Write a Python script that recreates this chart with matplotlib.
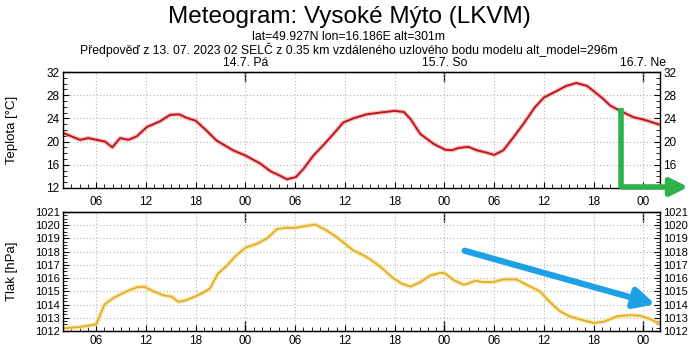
import matplotlib
matplotlib.use("Agg")
import matplotlib.pyplot as plt
from matplotlib.ticker import MultipleLocator, FuncFormatter, NullFormatter
from matplotlib.patches import FancyArrowPatch
from matplotlib.lines import Line2D

# hours since 13.7.2023 00:00
temp_hours = [2.0, 4.05, 5.06, 6.06, 7.07, 7.95, 8.88, 9.88, 10.89, 12.1, 13.7, 14.9,
              16.0, 16.9, 18.0, 19.3, 20.5, 22.5, 24.0, 25.8, 27.0, 28.2, 29.0, 30.1,
              31.0, 32.2, 33.4, 34.6, 35.8, 37.0, 38.6, 40.2, 42.0, 43.1, 43.9, 45.1,
              46.7, 48.1, 48.9, 49.7, 50.9, 51.9, 53.1, 54.0, 55.1, 56.3, 57.5, 58.9,
              60.0, 61.5, 62.7, 63.9, 65.2, 66.0, 67.2, 68.0, 69.2, 70.8, 72.0, 74.0]
temp_vals = [21.5, 20.3, 20.6, 20.3, 20.0, 19.0, 20.6, 20.3, 20.9, 22.5, 23.5, 24.6,
             24.7, 24.1, 23.6, 21.9, 20.2, 18.5, 17.6, 16.2, 14.9, 14.1, 13.5, 13.9,
             15.3, 17.6, 19.4, 21.3, 23.3, 24.0, 24.7, 25.0, 25.3, 25.1, 23.9, 21.3,
             19.6, 18.6, 18.5, 18.9, 19.1, 18.5, 18.1, 17.7, 18.5, 20.7, 23.0, 25.9,
             27.6, 28.7, 29.6, 30.1, 29.6, 28.7, 27.3, 26.2, 25.3, 24.2, 23.8, 22.9]

pres_hours = [2.0, 4.05, 6.0, 7.0, 8.07, 9.68, 10.9, 11.8, 12.9, 14.1, 15.1, 15.9,
              16.7, 17.9, 18.9, 19.7, 20.7, 21.7, 22.7, 24.0, 25.4, 26.6, 27.8, 28.8,
              30.0, 31.4, 32.4, 33.8, 35.0, 36.4, 37.0, 38.6, 40.2, 41.8, 42.8, 43.9,
              45.1, 46.3, 47.5, 48.1, 49.1, 50.3, 50.9, 51.7, 52.7, 53.9, 55.1, 56.7,
              57.9, 59.5, 60.7, 61.9, 63.1, 64.8, 66.0, 67.2, 68.8, 70.4, 71.6, 72.8, 73.8]
pres_vals = [1012.2, 1012.3, 1012.5, 1014.0, 1014.5, 1015.0, 1015.3, 1015.35, 1015.0,
             1014.7, 1014.6, 1014.2, 1014.3, 1014.6, 1014.9, 1015.2, 1016.35, 1016.9,
             1017.6, 1018.3, 1018.6, 1019.0, 1019.7, 1019.8, 1019.8, 1019.95, 1020.05,
             1019.6, 1019.1, 1018.4, 1018.1, 1017.6, 1016.9, 1016.0, 1015.6, 1015.35,
             1015.7, 1016.2, 1016.4, 1016.35, 1015.85, 1015.5, 1015.6, 1015.8, 1015.7,
             1015.7, 1015.9, 1015.9, 1015.5, 1015.0, 1014.2, 1013.5, 1013.1, 1012.8,
             1012.6, 1012.7, 1013.1, 1013.2, 1013.15, 1012.9, 1012.6]

hour_ticks = [6, 12, 18, 24, 30, 36, 42, 48, 54, 60, 66, 72]
day_ticks = [24, 48, 72]
day_labels = ["14.7. Pá", "15.7. So", "16.7. Ne"]

plt.rcParams["font.family"] = ["Liberation Sans", "DejaVu Sans"]

fig = plt.figure(figsize=(6.98, 3.48), dpi=100)
ax1 = fig.add_axes([0.0903, 0.4598, 0.8553, 0.3333])
ax2 = fig.add_axes([0.0903, 0.0489, 0.8553, 0.3420])

fig.text(0.5, 0.952, "Meteogram: Vysoké Mýto (LKVM)", ha="center", va="center",
         fontsize=17.5)
fig.text(0.5, 0.893, "lat=49.927N lon=16.186E alt=301m", ha="center", va="center",
         fontsize=8.8)
fig.text(0.5, 0.856, "Předpověď z 13. 07. 2023 02 SELČ z 0.35 km vzdáleného uzlového "
         "bodu modelu alt_model=296m", ha="center", va="center", fontsize=8.8)

hour_fmt = FuncFormatter(lambda x, p: f"{int(round(x)) % 24:02d}")

# temperature
ax1.plot(temp_hours, temp_vals, color="#f29a9a", lw=3.2, alpha=0.6, solid_capstyle="round")
ax1.plot(temp_hours, temp_vals, color="#c0141e", lw=1.4)
ax1.set_xlim(2, 74)
ax1.set_ylim(12, 32)
ax1.set_ylabel("Teplota [°C]", fontsize=9.5, va="center")
ax1.yaxis.set_label_coords(-0.0854, 0.5)

# pressure
ax2.plot(pres_hours, pres_vals, color="#f7e49a", lw=3.4, alpha=0.7, solid_capstyle="round")
ax2.plot(pres_hours, pres_vals, color="#e3b02e", lw=1.4)
ax2.set_xlim(2, 74)
ax2.set_ylim(1012, 1021)
ax2.set_ylabel("Tlak [hPa]", fontsize=9.5, va="center")
ax2.yaxis.set_label_coords(-0.0854, 0.5)

for ax, ymaj, ymin, ysize in [(ax1, 4, 1, 8.5), (ax2, 1, 0.25, 8)]:
    ax.set_xticks(hour_ticks)
    ax.xaxis.set_minor_locator(MultipleLocator(1))
    ax.yaxis.set_major_locator(MultipleLocator(ymaj))
    ax.yaxis.set_minor_locator(MultipleLocator(ymin))
    ax.grid(which="major", ls=(0, (1, 2)), color="#b4b4b4", lw=0.8)
    ax.tick_params(axis="y", which="both", direction="in", left=True, right=True,
                   labelleft=True, labelright=True, labelsize=ysize, pad=2.5)
    ax.tick_params(axis="y", which="major", length=4)
    ax.tick_params(axis="y", which="minor", length=3)
    ax.tick_params(axis="x", which="both", direction="in", top=False, bottom=True)
    ax.tick_params(axis="x", which="major", length=4, labelsize=8.5)
    ax.tick_params(axis="x", which="minor", length=3)
    for s in ax.spines.values():
        s.set_linewidth(1.0)
    # longer day ticks along the top edge
    sec = ax.secondary_xaxis("top")
    sec.set_xticks(day_ticks)
    sec.xaxis.set_major_formatter(NullFormatter())
    sec.tick_params(direction="in", length=7, width=1.0)

ax1.xaxis.set_major_formatter(NullFormatter())
day_lbl = ax1.secondary_xaxis("top")
day_lbl.set_xticks(day_ticks, labels=day_labels)
day_lbl.tick_params(length=0, pad=2, labelsize=8.8)

ax2.xaxis.set_major_formatter(hour_fmt)
ax2.tick_params(axis="x", which="major", pad=3)
top_lbl = ax2.secondary_xaxis("top")
top_lbl.set_xticks(hour_ticks)
top_lbl.xaxis.set_major_formatter(hour_fmt)
top_lbl.tick_params(length=0, pad=3, labelsize=8.5)
bot_day = ax2.secondary_xaxis("bottom")
bot_day.set_xticks(day_ticks)
bot_day.xaxis.set_major_formatter(NullFormatter())
bot_day.tick_params(direction="in", length=7, width=1.0)


def fp(x, y):
    return (x / 698, 1 - y / 348)


# hand-drawn highlight arrows
fig.add_artist(Line2D([fp(621, 108)[0], fp(621, 188)[0]], [fp(621, 108)[1], fp(621, 188)[1]],
                      transform=fig.transFigure, color="#2db34a", lw=4, solid_capstyle="butt"))
fig.add_artist(FancyArrowPatch(fp(619, 187), fp(691, 187), transform=fig.transFigure,
                               arrowstyle="-|>", mutation_scale=26, lw=4, color="#2db34a"))
fig.add_artist(FancyArrowPatch(fp(462, 250), fp(658, 305), transform=fig.transFigure,
                               arrowstyle="-|>", mutation_scale=30, lw=4.5, color="#1ea0e6"))

fig.savefig("out.png", dpi=100)
